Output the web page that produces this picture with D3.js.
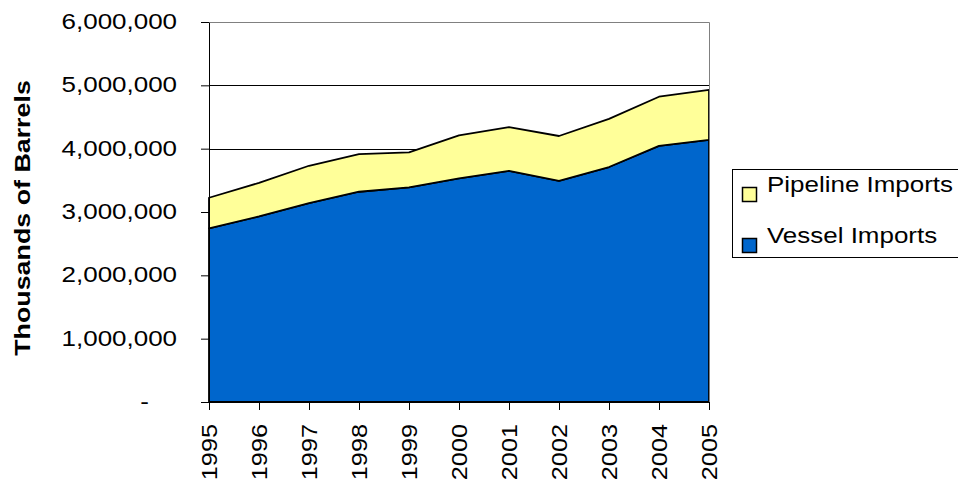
<!DOCTYPE html>
<html>
<head>
<meta charset="utf-8">
<script src="https://cdn.jsdelivr.net/npm/d3@7"></script>
<style>
  body { margin: 0; background: #fff; }
  text { font-family: "Liberation Sans", Arial, sans-serif; }
</style>
</head>
<body>
<div id="chart"></div>
<script>
// values (thousands of barrels)
var years = [1995, 1996, 1997, 1998, 1999, 2000, 2001, 2002, 2003, 2004, 2005];
var vessel = [2743000, 2930000, 3140000, 3320000, 3390000, 3530000, 3650000, 3490000, 3710000, 4045000, 4140000];
var pipeline = [482000, 530000, 590000, 595000, 550000, 680000, 690000, 710000, 760000, 775000, 790000];
var seriesKeys = ["vessel", "pipeline"];
var seriesNames = {vessel: "Vessel Imports", pipeline: "Pipeline Imports"};
var seriesColors = {vessel: "#0066cc", pipeline: "#ffff99"};
var legendOrder = ["pipeline", "vessel"];
var yTicks = [0, 1000000, 2000000, 3000000, 4000000, 5000000, 6000000];
var yTitle = "Thousands of Barrels";

var W = 958, H = 483;
var left = 209, top_ = 22, pw = 500, ph = 380;
var STRETCH = 1.18;   // the original text is drawn a bit wide

var rows = years.map(function (yr, i) {
    return {year: yr, vessel: vessel[i], pipeline: pipeline[i]};
});

var svg = d3.select("#chart").append("svg")
    .attr("width", W)
    .attr("height", H);

var x = d3.scaleLinear().domain([years[0], years[years.length - 1]]).range([0, pw]);
var y = d3.scaleLinear().domain([0, 6000000]).range([ph, 0]);

var g = svg.append("g").attr("transform", "translate(" + left + "," + top_ + ")");

// gridlines
g.append("g").selectAll("line")
    .data(yTicks.filter(function (d) { return d > 0 && d < 6000000; }))
    .enter().append("line")
    .attr("x1", 0).attr("x2", pw)
    .attr("y1", function (d) { return Math.round(y(d)) + 0.5; })
    .attr("y2", function (d) { return Math.round(y(d)) + 0.5; })
    .attr("stroke", "#000")
    .attr("stroke-width", 1);

// stacked areas
var stacked = d3.stack().keys(seriesKeys)(rows);
var area = d3.area()
    .x(function (d) { return x(d.data.year); })
    .y0(function (d) { return y(d[0]); })
    .y1(function (d) { return y(d[1]); });

g.selectAll("path.layer")
    .data(stacked)
    .enter().append("path")
    .attr("class", "layer")
    .attr("d", area)
    .attr("fill", function (d) { return seriesColors[d.key]; })
    .attr("stroke", "#000")
    .attr("stroke-width", 1.8)
    .attr("stroke-linejoin", "round");

// plot border, top and right
g.append("path")
    .attr("d", "M0.5,0.5H" + (pw + 0.5) + "V" + ph)
    .attr("fill", "none")
    .attr("stroke", "#808080")
    .attr("stroke-width", 1);

// y axis
var yAxis = g.append("g")
    .call(d3.axisLeft(y)
        .tickValues(yTicks)
        .tickSize(8)
        .tickSizeOuter(0)
        .tickFormat(function (d) { return d === 0 ? "-" : d3.format(",")(d); }));
yAxis.select(".domain").attr("stroke", "#000");
yAxis.selectAll(".tick line").attr("stroke", "#000");
yAxis.selectAll(".tick text")
    .attr("fill", "#000")
    .style("font-size", "22px")
    .attr("x", function (d) { return (d === 0 ? -60 : -32) / STRETCH; })
    .attr("dy", "0.3em")
    .attr("transform", "scale(" + STRETCH + ",1)");

// x axis
var xAxis = g.append("g")
    .attr("transform", "translate(0," + ph + ")")
    .call(d3.axisBottom(x)
        .tickValues(years)
        .tickSize(8)
        .tickSizeOuter(0)
        .tickFormat(d3.format("d")));
xAxis.select(".domain").attr("stroke", "#000");
xAxis.selectAll(".tick line").attr("stroke", "#000");
xAxis.selectAll(".tick text")
    .attr("fill", "#000")
    .style("font-size", "22px")
    .attr("text-anchor", "end")
    .attr("y", 0)
    .attr("x", -22 / 1.15)
    .attr("dy", "0.32em")
    .attr("transform", "rotate(-90) scale(1.15,1)");

// y title
svg.append("text")
    .attr("transform", "translate(30,218) rotate(-90) scale(1.22,1)")
    .attr("text-anchor", "middle")
    .style("font-size", "22px")
    .style("font-weight", "bold")
    .text(yTitle);

// legend
var lg = svg.append("g").attr("transform", "translate(732,169)");
lg.append("rect")
    .attr("x", 0.5).attr("y", 0.5)
    .attr("width", 260).attr("height", 88)
    .attr("fill", "#fff")
    .attr("stroke", "#000");

var item = lg.selectAll("g.item")
    .data(legendOrder)
    .enter().append("g")
    .attr("class", "item")
    .attr("transform", function (d, i) { return "translate(0," + (i * 51) + ")"; });
item.append("rect")
    .attr("x", 10.5).attr("y", 18.5)
    .attr("width", 14).attr("height", 14)
    .attr("fill", function (d) { return seriesColors[d]; })
    .attr("stroke", "#000")
    .attr("stroke-width", 1.5);
item.append("text")
    .attr("x", 35 / STRETCH)
    .attr("y", 23)
    .attr("transform", "scale(" + STRETCH + ",1)")
    .style("font-size", "22px")
    .text(function (d) { return seriesNames[d]; });
</script>
</body>
</html>
